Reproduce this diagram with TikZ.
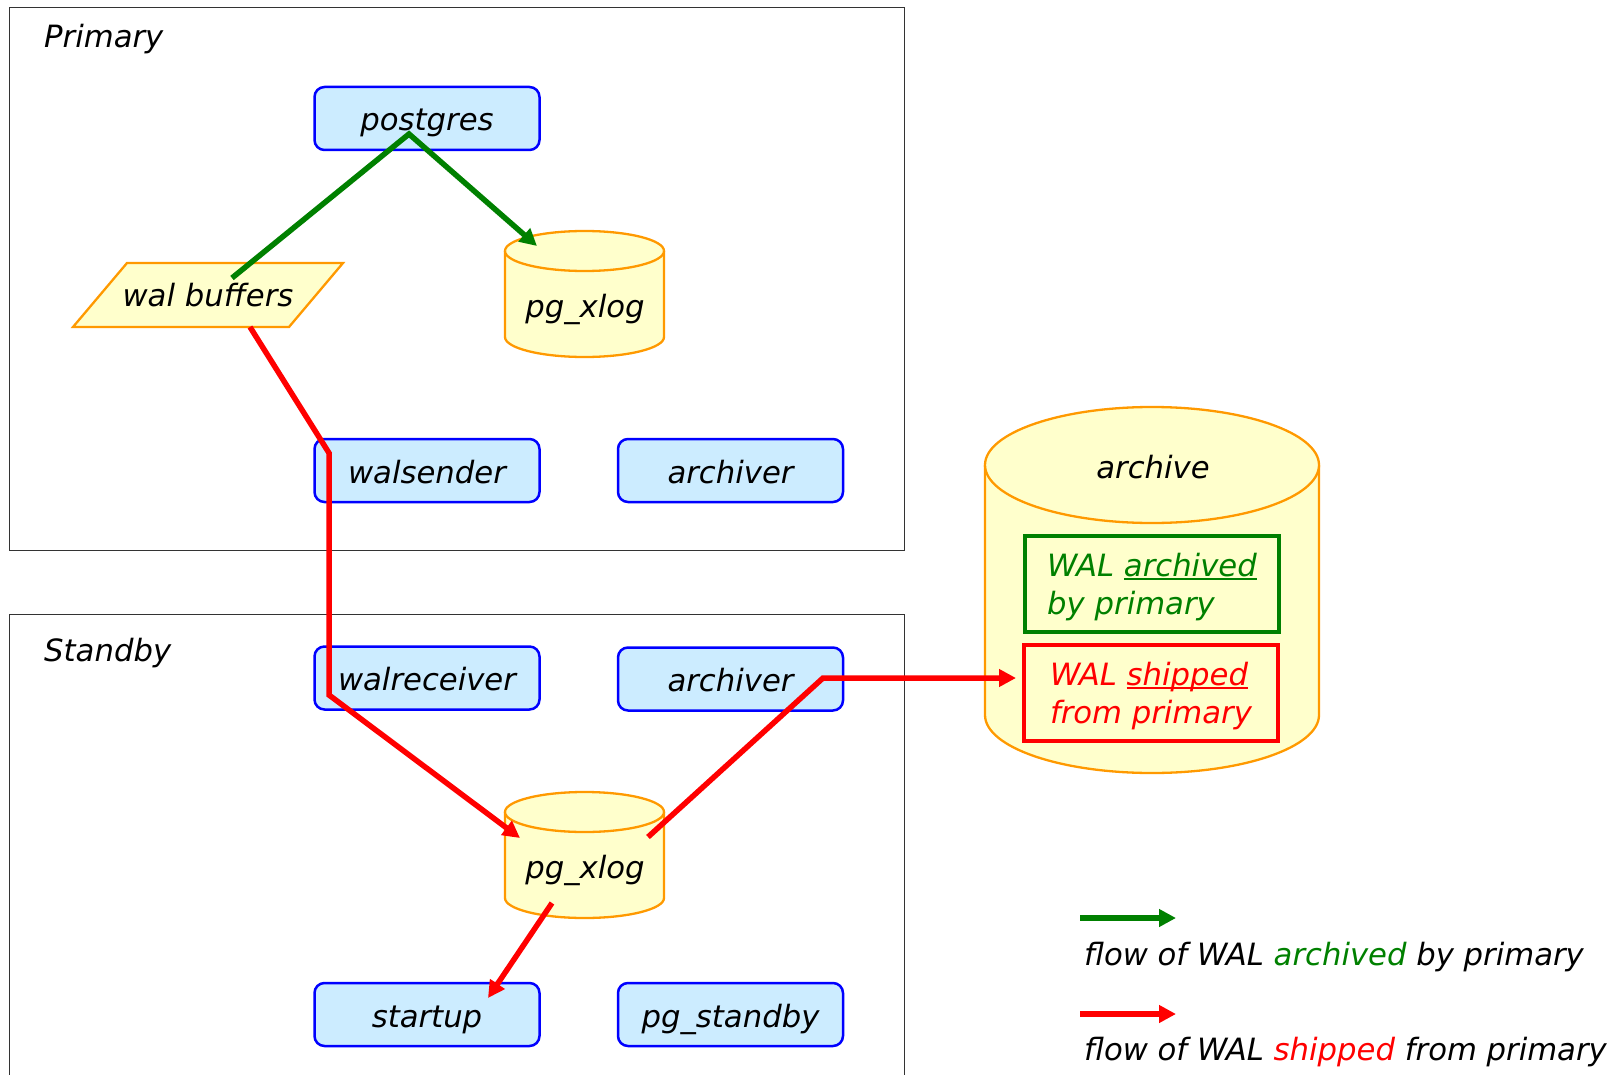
\documentclass[tikz,border=0pt]{standalone}
\usepackage{fontspec}
\setmainfont{DejaVu Sans}
\usetikzlibrary{arrows.meta}

\definecolor{procfill}{RGB}{204,236,255}
\definecolor{procline}{RGB}{0,0,255}
\definecolor{datafill}{RGB}{255,255,204}
\definecolor{dataline}{RGB}{255,153,0}
\definecolor{archgreen}{RGB}{0,128,0}
\definecolor{shipred}{RGB}{255,0,0}
\definecolor{framegray}{RGB}{51,51,51}

\newcommand{\walul}[1]{\setbox0\hbox{#1}\rlap{\rule[-4pt]{\wd0}{1.8pt}}\box0}

\tikzset{
  frame/.style={draw=framegray, line width=1.1pt, inner sep=0pt, anchor=north west},
  lbl/.style={inner sep=0pt},
  process/.style={draw=procline, fill=procfill, line width=2.5pt, rounded corners=10pt,
    minimum width=225pt, minimum height=63pt, inner sep=0pt, text height=25pt, text depth=0pt},
  datastore/.style={draw=dataline, fill=datafill, line width=2.3pt},
  walbox/.style={line width=3.5pt, minimum width=254pt, minimum height=96pt,
    inner sep=0pt, align=left, font=\fontsize{30.7}{38.5}\selectfont\itshape},
  archflow/.style={draw=archgreen, line width=5.5pt, -{Triangle[length=17pt,width=17pt]}},
  shipflow/.style={draw=shipred, line width=5.5pt, -{Triangle[length=17pt,width=17pt]}}
}

\begin{document}
\begin{tikzpicture}[x=1pt, y=-1pt, font=\fontsize{30.7}{37}\selectfont\itshape]
  \useasboundingbox (0,0) rectangle (1624,1075);
  \clip (0,0) rectangle (1624,1075);

  % the two servers
  \node[frame, minimum width=895pt, minimum height=543pt] (primary) at (9,7) {};
  \node[frame, minimum width=895pt, minimum height=520pt] (standby) at (9,614) {};
  \node[lbl, anchor=base west] (primarylbl) at (44,48) {Primary};
  \node[lbl, anchor=base west] (standbylbl) at (44,661) {Standby};

  % cylinders: name/centre x/top/bottom/x radius/y radius
  \foreach \name/\cx/\top/\bot/\rx/\ry in {xlogP/584.5/231/357/79.5/20,
      xlogS/584.5/792/918/79.5/20, archive/1152/407/773/167/58} {
    \filldraw[datastore] (\cx-\rx,\top+\ry) -- (\cx-\rx,\bot-\ry)
      arc[start angle=180, end angle=360, x radius=\rx pt, y radius=\ry pt]
      -- (\cx+\rx,\top+\ry)
      arc[start angle=0, end angle=180, x radius=\rx pt, y radius=\ry pt] -- cycle;
    \draw[datastore] (\cx+\rx,\top+\ry)
      arc[start angle=0, end angle=-180, x radius=\rx pt, y radius=\ry pt];
    \node[inner sep=0pt, minimum width={2*\rx}, minimum height={\bot-\top}]
      (\name) at (\cx,{(\top+\bot)/2}) {};
  }

  % primary
  \node[process] (postgres) at (427,118.5) {postgres};
  \coordinate (walbufc) at (208,295);
  \filldraw[datastore] ([shift={(-81,-32)}]walbufc) -- ([shift={(135,-32)}]walbufc)
    -- ([shift={(81,32)}]walbufc) -- ([shift={(-135,32)}]walbufc) -- cycle;
  \node[lbl, text height=22pt, text depth=0pt] (walbuf) at (walbufc) {wal buffers};
  \node[lbl, anchor=base] (xlogPlbl) at (585,317) {pg\_xlog};
  \node[process] (walsender) at (427,470.5) {walsender};
  \node[process] (archiverP) at (730.5,470.5) {archiver};

  % standby
  \node[process] (walreceiver) at (427,678) {walreceiver};
  \node[process] (archiverS) at (730.5,679) {archiver};
  \node[lbl, anchor=base] (xlogSlbl) at (585,878) {pg\_xlog};
  \node[process] (startup) at (427,1014.5) {startup};
  \node[process] (pgstandby) at (730.5,1014.5) {pg\_standby};

  % archive
  \node[lbl, anchor=base] (archivelbl) at (1153,478) {archive};
  \node[walbox, draw=archgreen, text=archgreen] (archbox) at (1152,584)
    {\rule{0pt}{29pt}WAL \walul{archived}\\by primary};
  \node[walbox, draw=shipred, text=shipred] (shipbox) at (1151,693)
    {\rule{0pt}{29pt}WAL \walul{shipped}\\from primary};

  % flows
  \coordinate (pgapex) at (409,134);
  \draw[archflow] ([shift={(24,-17)}]walbuf.center) -- (pgapex) -- ([shift={(-47.5,-48)}]xlogP.center);
  \coordinate (sendbend) at (329,453);
  \coordinate (recvbend) at (329,695);
  \draw[shipflow] ([shift={(42,32)}]walbuf.center) -- (sendbend) -- (recvbend)
    -- ([shift={(-64.5,-17)}]xlogS.center);
  \coordinate (archbend) at (823,678);
  \coordinate (archin) at (1016,678);
  \draw[shipflow] ([shift={(63.5,-18)}]xlogS.center) -- (archbend) -- (archin);
  \draw[shipflow] ([shift={(-32.5,48)}]xlogS.center) -- ([shift={(61,-16.5)}]startup.center);

  % legend
  \coordinate (arclegA) at (1080,918);
  \coordinate (arclegB) at (1176,918);
  \draw[archflow] (arclegA) -- (arclegB);
  \node[lbl, anchor=base west] (arclegend) at (1084,965) {flow of WAL \textcolor{archgreen}{archived} by primary};
  \coordinate (shiplegA) at (1080,1014);
  \coordinate (shiplegB) at (1176,1014);
  \draw[shipflow] (shiplegA) -- (shiplegB);
  \node[lbl, anchor=base west] (shiplegend) at (1084,1060) {flow of WAL \textcolor{shipred}{shipped} from primary};
\end{tikzpicture}
\end{document}
